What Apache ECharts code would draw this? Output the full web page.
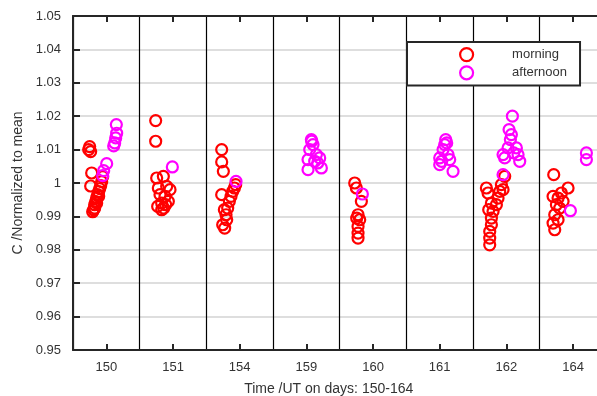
<!DOCTYPE html>
<html>
<head>
<meta charset="utf-8">
<script src="https://cdn.jsdelivr.net/npm/echarts@6/dist/echarts.min.js"></script>
<style>html,body{margin:0;padding:0;background:#fff;}#c{width:597px;height:396px;}</style>
</head>
<body>
<div id="c"></div>
<script>
// Category (day) labels
const days = ['150', '151', '154', '159', '160', '161', '162', '164'];
const yTicks = [0.95, 1.05, 0.01]; // min, max, step

// Each point: [fraction of the day, normalized value]
const morning150 = [[0.25,1.0109],[0.235,1.0100],[0.265,1.0094],[0.28,1.003],[0.265,0.9991],[0.295,0.9914],[0.31,0.992],[0.325,0.9935],[0.325,0.9925],[0.34,0.9944],[0.355,0.9956],[0.355,0.9940],[0.37,0.9965],[0.385,0.9974],[0.385,0.996],[0.40,0.9983],[0.415,0.9992],[0.43,1.0004],[0.445,1.0019]];
const afternoon150 = [[0.445,1.0022],[0.46,1.0037],[0.505,1.0058],[0.61,1.0111],[0.625,1.012],[0.64,1.0135],[0.655,1.0149],[0.65,1.0175]];
const morning151 = [[0.24,1.0187],[0.24,1.0125],[0.255,1.0015],[0.355,1.002],[0.28,0.9985],[0.405,0.999],[0.455,0.998],[0.305,0.9965],[0.38,0.996],[0.33,0.994],[0.27,0.993],[0.33,0.992],[0.43,0.9945],[0.36,0.9925],[0.39,0.9935]];
const afternoon151 = [[0.49,1.0048]];
const morning154 = [[0.23,1.010],[0.23,1.0063],[0.255,1.0035],[0.23,0.9965],[0.245,0.9875],[0.275,0.9865],[0.295,0.9905],[0.27,0.992],[0.32,0.9925],[0.345,0.9945],[0.37,0.996],[0.395,0.9975],[0.42,0.9985],[0.44,0.9995],[0.305,0.989]];
const afternoon154 = [[0.445,1.0005]];
const morning159 = [];
const afternoon159 = [[0.575,1.013],[0.60,1.0115],[0.55,1.010],[0.65,1.0085],[0.525,1.007],[0.70,1.0075],[0.525,1.004],[0.725,1.0045],[0.625,1.0065],[0.58,1.0125],[0.67,1.006]];
const morning160 = [[0.225,1.000],[0.25,0.9985],[0.325,0.9945],[0.275,0.9905],[0.30,0.989],[0.275,0.987],[0.275,0.985],[0.275,0.9835],[0.255,0.9895]];
const afternoon160 = [[0.34,0.9967]];
const morning161 = [];
const afternoon161 = [[0.59,1.013],[0.575,1.0115],[0.55,1.010],[0.625,1.0085],[0.50,1.0075],[0.50,1.0055],[0.70,1.0035],[0.65,1.007],[0.605,1.012],[0.53,1.0065]];
const morning162 = [[0.20,0.9985],[0.225,0.997],[0.475,1.002],[0.425,0.9995],[0.40,0.9975],[0.375,0.9955],[0.35,0.9935],[0.30,0.9915],[0.275,0.9895],[0.275,0.9875],[0.25,0.9855],[0.25,0.9835],[0.25,0.9815],[0.275,0.994],[0.45,0.998],[0.235,0.992]];
const afternoon162 = [[0.59,1.020],[0.54,1.016],[0.575,1.0145],[0.56,1.013],[0.525,1.0105],[0.45,1.0085],[0.475,1.0075],[0.65,1.0105],[0.675,1.0085],[0.70,1.0065],[0.45,1.0025],[0.61,1.009]];
const morning164 = [[0.21,1.0025],[0.425,0.9985],[0.20,0.996],[0.275,0.9955],[0.325,0.997],[0.25,0.9935],[0.30,0.9925],[0.225,0.9905],[0.20,0.988],[0.225,0.986],[0.35,0.9945],[0.275,0.989]];
const afternoon164 = [[0.70,1.009],[0.70,1.007],[0.46,0.9917]];

const morningByDay = [morning150, morning151, morning154, morning159, morning160, morning161, morning162, morning164];
const afternoonByDay = [afternoon150, afternoon151, afternoon154, afternoon159, afternoon160, afternoon161, afternoon162, afternoon164];

function place(byDay) {
  const out = [];
  byDay.forEach((pts, i) => pts.forEach(p => out.push([i + p[0], p[1]])));
  return out;
}

const FONT = 'Liberation Sans, Arial, sans-serif';
const AX = '#262626';
const TXT = '#333333';

const chart = echarts.init(document.getElementById('c'), null, {renderer: 'canvas'});
const axisLineStyle = {show: true, lineStyle: {color: AX, width: 2}};
const tickStyle = {show: true, inside: true, length: 6, lineStyle: {color: AX, width: 2}};

chart.setOption({
  animation: false,
  backgroundColor: '#fff',
  grid: {left: 73, top: 16, width: 533.4, height: 334, containLabel: false, outerBoundsMode: 'none'},
  legend: {
    left: 407, top: 42,
    orient: 'vertical',
    backgroundColor: '#fff',
    borderColor: AX, borderWidth: 2,
    padding: [5, 13, 5, 52],
    itemWidth: 13, itemHeight: 13, itemGap: 3,
    textStyle: {fontFamily: FONT, fontSize: 13, color: TXT, padding: [0, 0, 0, 34], lineHeight: 13},
    data: [
      {name: 'morning', icon: 'circle', itemStyle: {color: 'rgba(0,0,0,0)', borderColor: '#ff0000', borderWidth: 2.2}},
      {name: 'afternoon', icon: 'circle', itemStyle: {color: 'rgba(0,0,0,0)', borderColor: '#ff00ff', borderWidth: 2.2}}
    ]
  },
  xAxis: [
    {
      type: 'category', data: days, position: 'bottom', boundaryGap: true,
      axisLine: axisLineStyle,
      axisTick: Object.assign({alignWithLabel: true, interval: 0}, tickStyle),
      axisLabel: {interval: 0, margin: 11, fontFamily: FONT, fontSize: 13, color: TXT},
      splitLine: {show: true, interval: 0, lineStyle: {color: '#000', width: 1.2}},
      name: 'Time /UT on days: 150-164', nameLocation: 'middle', nameGap: 32,
      nameTextStyle: {fontFamily: FONT, fontSize: 14, color: TXT, padding: [0, 22, 0, 0]}
    },
    {
      type: 'category', data: days, position: 'top', boundaryGap: true,
      axisLine: axisLineStyle,
      axisTick: Object.assign({alignWithLabel: true, interval: 0}, tickStyle),
      axisLabel: {show: false},
      splitLine: {show: false}
    },
    {type: 'value', min: 0, max: days.length, show: false}
  ],
  yAxis: {
    type: 'value', min: yTicks[0], max: yTicks[1], interval: yTicks[2],
    axisLine: axisLineStyle,
    axisTick: Object.assign({}, tickStyle, {length: 7}),
    axisLabel: {
      margin: 12, fontFamily: FONT, fontSize: 13, color: TXT,
      formatter: v => String(parseFloat(v.toFixed(2)))
    },
    splitLine: {show: true, lineStyle: {color: '#dedede', width: 2}},
    name: 'C /Normalized to mean', nameLocation: 'middle', nameGap: 39,
    nameTextStyle: {fontFamily: FONT, fontSize: 14, color: TXT}
  },
  series: [
    {
      name: 'morning', type: 'scatter', xAxisIndex: 2, symbol: 'circle', symbolSize: 11,
      itemStyle: {color: 'rgba(0,0,0,0)', borderColor: '#ff0000', borderWidth: 2.2, opacity: 1},
      data: place(morningByDay)
    },
    {
      name: 'afternoon', type: 'scatter', xAxisIndex: 2, symbol: 'circle', symbolSize: 11,
      itemStyle: {color: 'rgba(0,0,0,0)', borderColor: '#ff00ff', borderWidth: 2.2, opacity: 1},
      data: place(afternoonByDay)
    }
  ]
});
</script>
</body>
</html>
